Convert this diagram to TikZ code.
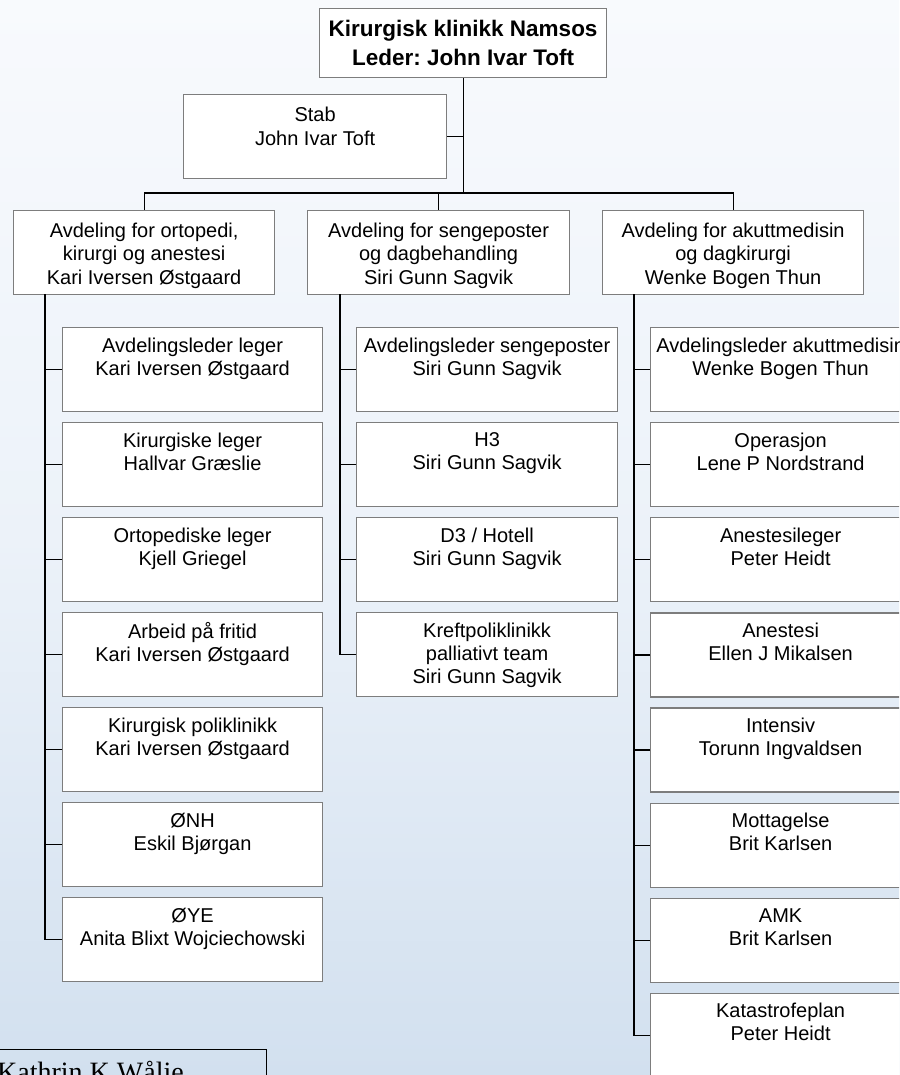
\documentclass[tikz,border=0pt]{standalone}
\usepackage{fontspec}
\setmainfont{Liberation Sans}
\newfontfamily\serifK{Liberation Serif}
\frenchspacing
\definecolor{boxgray}{RGB}{125,125,125}
\definecolor{skytop}{RGB}{248,250,253}
\definecolor{skymid}{RGB}{236,242,249}
\definecolor{skybot}{RGB}{210,224,239}
\begin{document}
\begin{tikzpicture}[x=1pt,y=-1pt,
 box/.style={draw=boxgray, line width=1.2pt, fill=white, anchor=north west, inner sep=0pt, minimum width=260pt, minimum height=84pt},
 txt/.style={anchor=north, inner sep=0pt, align=center, font=\fontsize{20}{23}\selectfont},
 dtxt/.style={anchor=north, inner sep=0pt, align=center, font=\fontsize{20}{23.5}\selectfont},
 conn/.style={draw=black, line width=1.2pt}]
\useasboundingbox (0,0) rectangle (899,1075);
\clip (0,0) rectangle (899,1075);
\shade[top color=skytop, bottom color=skybot, middle color=skymid] (0,0) rectangle (899,1075);

% top
\node[box, minimum width=287pt, minimum height=69pt] (top) at (319,8) {};
\node[anchor=north, inner sep=0pt, align=center, font=\bfseries\fontsize{22.5}{29}\selectfont] (topt) at ([yshift=-12pt]top.north) {Kirurgisk klinikk Namsos\\Leder: John Ivar Toft};
% stab
\node[box, minimum width=263pt, minimum height=84pt] (stab) at (183,94) {};
\node[anchor=north, inner sep=0pt, align=center, font=\fontsize{20}{24}\selectfont] (stabt) at ([yshift=-13pt]stab.north) {Stab\\John Ivar Toft};
% departments
\node[box, minimum width=261pt] (dL) at (13,210) {};
\node[dtxt] (dLt) at ([yshift=-12.5pt]dL.north) {Avdeling for ortopedi,\\kirurgi og anestesi\\Kari Iversen Østgaard};
\node[box, minimum width=262pt] (dM) at (307,210) {};
\node[dtxt] (dMt) at ([yshift=-12.5pt]dM.north) {Avdeling for sengeposter\\og dagbehandling\\Siri Gunn Sagvik};
\node[box, minimum width=261pt] (dR) at (602,210) {};
\node[dtxt] (dRt) at ([yshift=-12.5pt]dR.north) {Avdeling for akuttmedisin\\og dagkirurgi\\Wenke Bogen Thun};

\coordinate (bar) at (0,193);
\draw[conn] (top.south) -- (top.south |- bar);
\draw[conn] (stab.east) -- (stab.east -| top.south);
\draw[conn] (dL.north) -- (dL.north |- bar) -- (dR.north |- bar) -- (dR.north);
\draw[conn] (dM.north) -- (dM.north |- bar);

% left column
\coordinate (sL) at (45,294);
\foreach \t [count=\i] in {{Avdelingsleder leger\\Kari Iversen Østgaard},{Kirurgiske leger\\Hallvar Græslie},{Ortopediske leger\\Kjell Griegel},{Arbeid på fritid\\Kari Iversen Østgaard},{Kirurgisk poliklinikk\\Kari Iversen Østgaard},{ØNH\\Eskil Bjørgan},{ØYE\\Anita Blixt Wojciechowski}}{
  \node[box] (l\i) at (62,{327+95*(\i-1)}) {};
  \node[txt] (l\i t) at ([yshift=-10.5pt]l\i.north) {\t};
  \draw[conn] (l\i.west) -- (l\i.west -| sL);
}
\draw[conn] (sL) |- (l7.west);

% middle column
\coordinate (sM) at (340,294);
\foreach \t [count=\i] in {{Avdelingsleder sengeposter\\Siri Gunn Sagvik},{H3\\Siri Gunn Sagvik},{D3 / Hotell\\Siri Gunn Sagvik},{Kreftpoliklinikk\\palliativt team\\Siri Gunn Sagvik}}{
  \node[box, minimum width=261pt] (m\i) at (356,{327+95*(\i-1)}) {};
  \node[txt] (m\i t) at ([yshift=-10.5pt]m\i.north) {\t};
  \draw[conn] (m\i.west) -- (m\i.west -| sM);
}
\draw[conn] (sM) |- (m4.west);

% right column
\coordinate (sR) at (634,294);
\foreach \t [count=\i] in {{Avdelingsleder akuttmedisin\\Wenke Bogen Thun},{Operasjon\\Lene P Nordstrand},{Anestesileger\\Peter Heidt},{Anestesi\\Ellen J Mikalsen},{Intensiv\\Torunn Ingvaldsen},{Mottagelse\\Brit Karlsen},{AMK\\Brit Karlsen},{Katastrofeplan\\Peter Heidt}}{
  \node[box] (r\i) at (650,{327+95.1*(\i-1)}) {};
  \node[txt] (r\i t) at ([yshift=-10.5pt]r\i.north) {\t};
  \draw[conn] (r\i.west) -- (r\i.west -| sR);
}
\draw[conn] (sR) |- (r8.west);

% bottom-left signature box
\node[draw=black, line width=1pt, anchor=north west, inner sep=0pt, minimum width=271pt, minimum height=60pt] (kb) at (-5,1049) {};
\node[anchor=base west, inner sep=0pt, font=\serifK\fontsize{28}{32}\selectfont] (kbt) at (-3,1081) {Kathrin K Wålie};
\end{tikzpicture}
\end{document}
